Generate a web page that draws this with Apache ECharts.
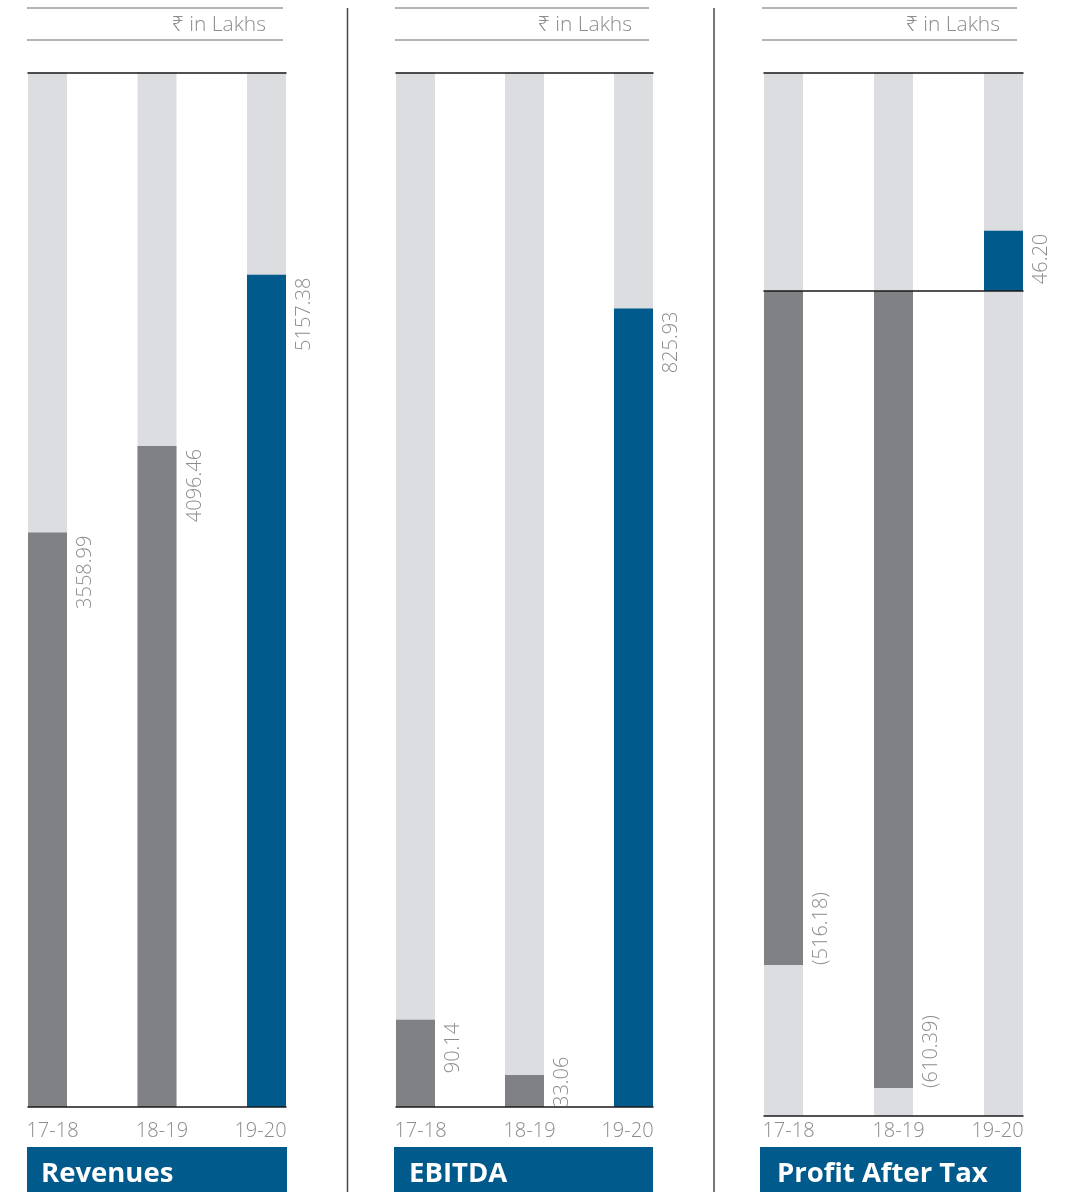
<!DOCTYPE html>
<html><head><meta charset="utf-8">
<script src="https://cdn.jsdelivr.net/npm/echarts@6/dist/echarts.min.js"></script>
<style>html,body{margin:0;padding:0;background:#fff}#c{width:1070px;height:1192px}</style>
</head><body><div id="c"></div>
<script>
// ---- data ----
const categories = ['17-18', '18-19', '19-20'];
const revenues = [3558.99, 4096.46, 5157.38];
const ebitda = [90.14, 33.06, 825.93];
const profitAfterTax = [-516.18, -610.39, 46.20];
const panelTitles = ['Revenues', 'EBITDA', 'Profit After Tax'];
const unitLabel = '₹ in Lakhs';
const yRanges = [[0, 6410], [0, 1070], [-631.7, 167.4]];

// ---- style / layout ----
const FONT = "'Open Sans', 'Noto Sans', 'DejaVu Sans', sans-serif";
const BLUE = '#005a8b', DARK = '#808185', LIGHT = '#dcdde0', TXT = '#8c8c8e', LINE = '#1a1a1a';
const BAR_W = 39;
const panels = [
  {data: revenues, range: yRanges[0], title: panelTitles[0], left: 28, width: 258, top: 72.5, bottom: 1107, box: [27, 287], textX: 41, head: [27, 283], margin: 14},
  {data: ebitda, range: yRanges[1], title: panelTitles[1], left: 396, width: 257, top: 72.5, bottom: 1107, box: [394, 653], textX: 409, head: [395, 649], margin: 14},
  {data: profitAfterTax, range: yRanges[2], title: panelTitles[2], left: 764, width: 259, top: 72.5, bottom: 1115.7, box: [760, 1021], textX: 777, head: [762, 1017], margin: 5.5}
];

function fmt(v) { return v < 0 ? '(' + Math.abs(v).toFixed(2) + ')' : v.toFixed(2); }

const grids = [], xAxes = [], yAxes = [], series = [], graphics = [];
const lblFont = {fontFamily: FONT, fontSize: 20, fontWeight: 300, color: TXT};

panels.forEach((p, i) => {
  grids.push({left: p.left, top: p.top, width: p.width, height: p.bottom - p.top});
  const s = (p.width - BAR_W) / 2;
  const xmin = -(BAR_W / 2) / s, xmax = 2 + (BAR_W / 2) / s;
  const baseX = {gridIndex: i, type: 'value', min: xmin, max: xmax, splitLine: {show: false}, axisTick: {show: false}, z: 10};
  const bottomIdx = xAxes.length;
  xAxes.push(Object.assign({}, baseX, {
    position: 'bottom',
    axisLine: {show: true, onZero: false, lineStyle: {color: LINE, width: 1.5}},
    axisLabel: Object.assign({
      show: true, customValues: [0, 1, 2], margin: p.margin,
      formatter: v => { const k = Math.round(v); return '{' + (k === 2 ? 'r' : 'l') + '|' + categories[k] + '}'; },
      rich: {l: Object.assign({padding: [0, 0, 0, 10]}, lblFont), r: Object.assign({padding: [0, 12, 0, 0]}, lblFont)}
    }, lblFont)
  }));
  xAxes.push(Object.assign({}, baseX, {
    position: 'top', axisLabel: {show: false},
    axisLine: {show: true, onZero: false, lineStyle: {color: LINE, width: 1.5}}
  }));
  if (p.range[0] < 0) {
    xAxes.push(Object.assign({}, baseX, {
      position: 'bottom', axisLabel: {show: false},
      axisLine: {show: true, onZero: true, lineStyle: {color: LINE, width: 1.5}}
    }));
  }
  yAxes.push({gridIndex: i, type: 'value', min: p.range[0], max: p.range[1], show: false, splitLine: {show: false}});

  const span = p.range[1] - p.range[0], h = p.bottom - p.top;
  series.push({
    type: 'bar', xAxisIndex: bottomIdx, yAxisIndex: i, barWidth: BAR_W, clip: false,
    showBackground: true, backgroundStyle: {color: LIGHT},
    silent: true, animation: false,
    label: Object.assign({show: true, rotate: 90, verticalAlign: 'middle', formatter: prm => fmt(prm.value[1])}, lblFont),
    data: p.data.map((v, j) => {
      const len = Math.abs(v) / span * h;
      const lab = (v > 0 && len > 60) ? {position: [BAR_W + 18.5, 3], align: 'right'} : {position: [BAR_W + 18.5, '100%'], align: 'left'};
      return {value: [j, v], itemStyle: {color: j === 2 ? BLUE : DARK}, label: lab};
    })
  });

  // header
  graphics.push({type: 'line', shape: {x1: p.head[0], y1: 8, x2: p.head[1], y2: 8}, style: {stroke: '#9b9b9b', lineWidth: 1.5}, silent: true});
  graphics.push({type: 'line', shape: {x1: p.head[0], y1: 40, x2: p.head[1], y2: 40}, style: {stroke: '#9b9b9b', lineWidth: 1.5}, silent: true});
  graphics.push({type: 'text', x: p.head[1] - 17, y: 25, style: {text: unitLabel, align: 'right', verticalAlign: 'middle', font: '300 21px ' + FONT, fill: TXT}, silent: true});
  // title box
  graphics.push({type: 'rect', shape: {x: p.box[0], y: 1147, width: p.box[1] - p.box[0], height: 45}, style: {fill: BLUE}, silent: true});
  graphics.push({type: 'text', x: p.textX, y: 1174, style: {text: p.title, align: 'left', verticalAlign: 'middle', font: 'bold 27.5px ' + FONT, fill: '#ffffff'}, silent: true});
});
[347.5, 714].forEach(x => graphics.push({type: 'line', shape: {x1: x, y1: 8, x2: x, y2: 1192}, style: {stroke: '#4a4a4a', lineWidth: 1.5}, silent: true}));

const chart = echarts.init(document.getElementById('c'), null, {renderer: 'canvas'});
chart.setOption({animation: false, backgroundColor: '#fff', grid: grids, xAxis: xAxes, yAxis: yAxes, series: series, graphic: graphics});
</script></body></html>
